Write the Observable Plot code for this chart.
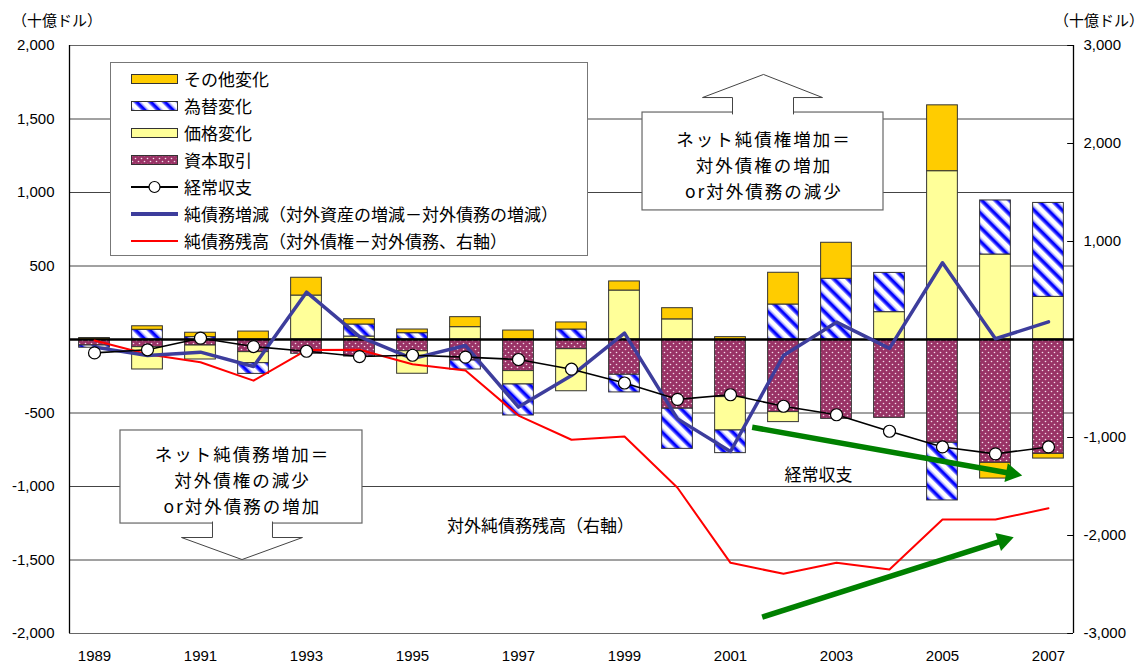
<!DOCTYPE html>
<html><head><meta charset="utf-8">
<script src="https://cdn.jsdelivr.net/npm/d3@7"></script>
<script src="https://cdn.jsdelivr.net/npm/@observablehq/plot@0.6"></script>
<style>
body{margin:0;background:#fff;}
#wrap{position:relative;width:1144px;height:663px;font-family:"Noto Sans CJK JP",sans-serif;color:#000;}
.unit{position:absolute;top:11px;font-size:15px;line-height:18px;white-space:nowrap;}
#legend{position:absolute;left:110px;top:62px;width:478px;height:194px;border:1px solid #777;background:#fff;box-sizing:border-box;}
.li{position:absolute;left:20px;height:20px;display:flex;align-items:center;font-size:17px;line-height:20px;white-space:nowrap;}
.li svg{margin-right:6px;flex:none;}
</style></head>
<body>
<div id="wrap">
<svg width="0" height="0" style="position:absolute">
<defs>
<pattern id="pFx" width="10" height="10" patternUnits="userSpaceOnUse" patternTransform="rotate(-45)">
 <rect width="10" height="10" fill="#fff"/>
 <rect x="0" y="0" width="1.2" height="10" fill="#7f7fff"/>
 <rect x="1.2" y="0" width="3" height="10" fill="#0000ff"/>
 <rect x="4.2" y="0" width="1.2" height="10" fill="#7f7fff"/>
</pattern>
<pattern id="pCap" width="6" height="6" patternUnits="userSpaceOnUse">
 <rect width="6" height="6" fill="#993366"/>
 <circle cx="1.5" cy="1.5" r="0.8" fill="#f3dbe8"/>
 <circle cx="4.5" cy="4.5" r="0.8" fill="#f3dbe8"/>
</pattern>
</defs></svg>
<div id="chart"></div>
<div class="unit" style="left:12px">（十億ドル）</div>
<div class="unit" style="left:1054px">（十億ドル）</div>
<div id="legend"></div>
</div>
<script>
// ---- data (billions of dollars) ----
const years = [1989,1990,1991,1992,1993,1994,1995,1996,1997,1998,1999,2000,2001,2002,2003,2004,2005,2006,2007];
// stacked components (left axis)
const capital = [-41,-52,-41,-86,-97,-116,-80,-143,-215,-66,-240,-471,-392,-494,-540,-533,-703,-839,-778];
const price   = [0,-152,-95,-75,299,20,-153,84,-91,-286,333,137,-227,-68,0,186,1145,578,290];
const fx      = [-15,66,16,-73,0,82,43,-61,-211,68,-120,-273,-154,238,413,267,-392,368,639];
const other   = [10,24,30,54,121,36,25,68,61,48,62,76,16,216,245,0,448,-107,-32];
// current account (left axis)
const currentAccount = [-91,-70,9,-48,-80,-116,-107,-120,-136,-202,-296,-407,-376,-454,-512,-624,-731,-778,-731];
// change in net debt position (left axis)
const netChange = [-52,-109,-86,-184,322,20,-130,-41,-460,-245,43,-540,-762,-109,118,-60,522,5,120];
// net international investment position (right axis)
const netPosition = [-10,-150,-232,-420,-108,-105,-252,-316,-776,-1023,-990,-1513,-2279,-2391,-2279,-2347,-1837,-1837,-1722];

const seriesNames = ["資本取引","価格変化","為替変化","その他変化"];
const seriesFill = ["url(#pCap)","#ffff99","url(#pFx)","#ffcc00"];
const leftTicks = [2000,1500,1000,500,-500,-1000,-1500,-2000];
const rightTicks = [3000,2000,1000,-1000,-2000,-3000];
const yearTicks = [1989,1991,1993,1995,1997,1999,2001,2003,2005,2007];
const gridValues = [1500,1000,500,-500,-1000,-1500];
const rightRatio = 1.5;

// annotation items (in year / left-axis units)
const box1 = {x1:1999.34, x2:2003.887, y1:878, y2:1544};
const box1Lines = ["ネット純債権増加＝","対外債権の増加","or対外債務の減少"];
const box1Center = {x: 2001.63, y: 1197};
const upArrowX = [2001.038,2001.038,2000.472,2001.623,2002.736,2002.189,2002.189];
const upArrowY = [1534,1646,1646,1803,1646,1646,1534];
const box2 = {x1:1989.49, x2:1994.056, y1:-1252, y2:-619};
const box2Lines = ["ネット純債務増加＝","対外債権の減少","or対外債務の増加"];
const box2Center = {x: 1991.79, y: -946};
const downArrowX = [1991.226,1991.226,1990.641,1991.783,1992.924,1992.358,1992.358];
const downArrowY = [-1241,-1347,-1347,-1497,-1347,-1347,-1241];
const labelText = ["経常収支","対外純債務残高（右軸）"];
const labelX = [2002.66,1997.415];
const labelY = [-925,-1272];
const greenStartX = [2001.409,2001.598];
const greenStartY = [-597,-1889];
const greenHeadX = [2006.302,2006.148];
const greenHeadY = [-912,-1367];
const greenRotate = [100.1,72.4];

// ---- tables ----
const comps = [capital, price, fx, other];
const barRows = [];
years.forEach((year,i)=>{
  comps.forEach((arr,k)=>{ if (arr[i] !== 0) barRows.push({year, series: seriesNames[k], fill: seriesFill[k], value: arr[i]}); });
});
const caRows = years.map((year,i)=>({year, value: currentAccount[i]}));
const chgRows = years.map((year,i)=>({year, value: netChange[i]}));
const posRows = years.map((year,i)=>({year, value: netPosition[i]}));
const upRows = upArrowX.map((x,i)=>({x, y: upArrowY[i]}));
const downRows = downArrowX.map((x,i)=>({x, y: downArrowY[i]}));
const boxTexts = [
  {x: box1Center.x, y: box1Center.y, t: box1Lines.join("\n")},
  {x: box2Center.x, y: box2Center.y, t: box2Lines.join("\n")}
];
const labels = labelText.map((t,i)=>({x: labelX[i], y: labelY[i], t}));
const greens = greenStartX.map((x,i)=>({x1:x, y1:greenStartY[i], x2:greenHeadX[i], y2:greenHeadY[i], r:greenRotate[i]}));

const xMin = 1988.528, xMax = 2007.472;
const fmt = v => (v < 0 ? "-" : "") + d3.format(",")(Math.abs(Math.round(v)));
const jp = "Noto Sans CJK JP";

const chart = Plot.plot({
  width: 1144, height: 663,
  marginTop: 45, marginBottom: 30, marginLeft: 69, marginRight: 71,
  x: {type: "linear", domain: [xMin, xMax]},
  y: {domain: [-2000, 2000]},
  color: {type: "identity"},
  style: {fontFamily: "Liberation Sans, Arial, sans-serif", fontSize: "15px", color: "#000", background: "transparent", overflow: "visible"},
  marks: [
    Plot.ruleY(gridValues, {stroke: "#444", strokeWidth: 1}),
    Plot.ruleY([2000, -2000], {stroke: "#666", strokeWidth: 1}),
    Plot.rect(barRows, Plot.stackY({x: "year", x1: d => d.year - 0.29, x2: d => d.year + 0.29, y: "value", fill: "fill", stroke: "#333", strokeWidth: 1})),
    Plot.ruleY([0], {stroke: "#000", strokeWidth: 2.5}),
    Plot.ruleX([xMin, xMax], {stroke: "#000", strokeWidth: 1.3}),
    Plot.ruleY(rightTicks.map(v => v / rightRatio), {x1: xMax - 0.11, x2: xMax, stroke: "#000"}),
    Plot.axisY(leftTicks, {anchor: "left", tickSize: 0, tickPadding: 15, tickFormat: fmt, label: null}),
    Plot.axisY(rightTicks.map(v => v / rightRatio), {anchor: "right", tickSize: 0, tickPadding: 10, tickFormat: v => fmt(v * rightRatio), label: null}),
    Plot.axisX(yearTicks, {anchor: "bottom", tickSize: 0, tickPadding: 17, tickFormat: d => String(d), label: null}),
    Plot.line(posRows, {x: "year", y: d => d.value / rightRatio, stroke: "#ff0000", strokeWidth: 2}),
    Plot.line(chgRows, {x: "year", y: "value", stroke: "#3d3d9c", strokeWidth: 3.5}),
    Plot.line(caRows, {x: "year", y: "value", stroke: "#000", strokeWidth: 1.6}),
    Plot.dot(caRows, {x: "year", y: "value", r: 6, fill: "#fff", stroke: "#000", strokeWidth: 1.2}),
    // annotation boxes
    Plot.rect([box1], {x1: "x1", x2: "x2", y1: "y1", y2: "y2", fill: "#fff", stroke: "#666", strokeWidth: 1.2}),
    Plot.line(upRows, {x: "x", y: "y", fill: "#fff", stroke: "#444", strokeWidth: 1, strokeLinejoin: "miter"}),
    Plot.rect([box2], {x1: "x1", x2: "x2", y1: "y1", y2: "y2", fill: "#fff", stroke: "#666", strokeWidth: 1.2}),
    Plot.line(downRows, {x: "x", y: "y", fill: "#fff", stroke: "#444", strokeWidth: 1, strokeLinejoin: "miter"}),
    Plot.text(boxTexts, {x: "x", y: "y", text: "t", fontFamily: jp, fontSize: 17.5, lineHeight: 1.5, fill: "#000"}),
    Plot.text(labels, {x: "x", y: "y", text: "t", fontFamily: jp, fontSize: 17, fill: "#000"}),
    // green trend arrows
    Plot.link(greens, {x1: "x1", y1: "y1", x2: "x2", y2: "y2", stroke: "#008000", strokeWidth: 5.5, strokeLinecap: "butt"}),
    Plot.dot(greens, {x: "x2", y: "y2", symbol: "triangle", r: 7, fill: "#008000", stroke: "none", rotate: "r"})
  ]
});
// widen the box captions' glyph spacing to match the original's wider face
chart.querySelectorAll('g[font-size="17.5"] text').forEach(t => t.setAttribute("letter-spacing", "2"));
document.getElementById("chart").appendChild(chart);

// ---- legend ----
const legendItems = [
  {label: "その他変化", kind: "rect", fill: "#ffcc00"},
  {label: "為替変化", kind: "rect", fill: "url(#pFx)"},
  {label: "価格変化", kind: "rect", fill: "#ffff99"},
  {label: "資本取引", kind: "rect", fill: "url(#pCap)"},
  {label: "経常収支", kind: "dotline", stroke: "#000"},
  {label: "純債務増減（対外資産の増減－対外債務の増減）", kind: "line", stroke: "#3d3d9c", width: 4},
  {label: "純債務残高（対外債権－対外債務、右軸）", kind: "line", stroke: "#ff0000", width: 2}
];
const legend = document.getElementById("legend");
legendItems.forEach((it, i) => {
  const row = document.createElement("div");
  row.className = "li";
  row.style.top = (5.5 + i * 27) + "px";
  let sw;
  if (it.kind === "rect") sw = `<svg width="47" height="12"><rect x="0.5" y="1.5" width="46" height="9" fill="${it.fill}" stroke="#333"/></svg>`;
  else if (it.kind === "dotline") sw = `<svg width="47" height="14"><line x1="0" y1="7" x2="47" y2="7" stroke="#000" stroke-width="2"/><circle cx="23.5" cy="7" r="5.5" fill="#fff" stroke="#000" stroke-width="1.2"/></svg>`;
  else sw = `<svg width="47" height="8"><line x1="0" y1="4" x2="47" y2="4" stroke="${it.stroke}" stroke-width="${it.width}"/></svg>`;
  row.innerHTML = sw + `<span>${it.label}</span>`;
  legend.appendChild(row);
});
</script>
</body></html>
